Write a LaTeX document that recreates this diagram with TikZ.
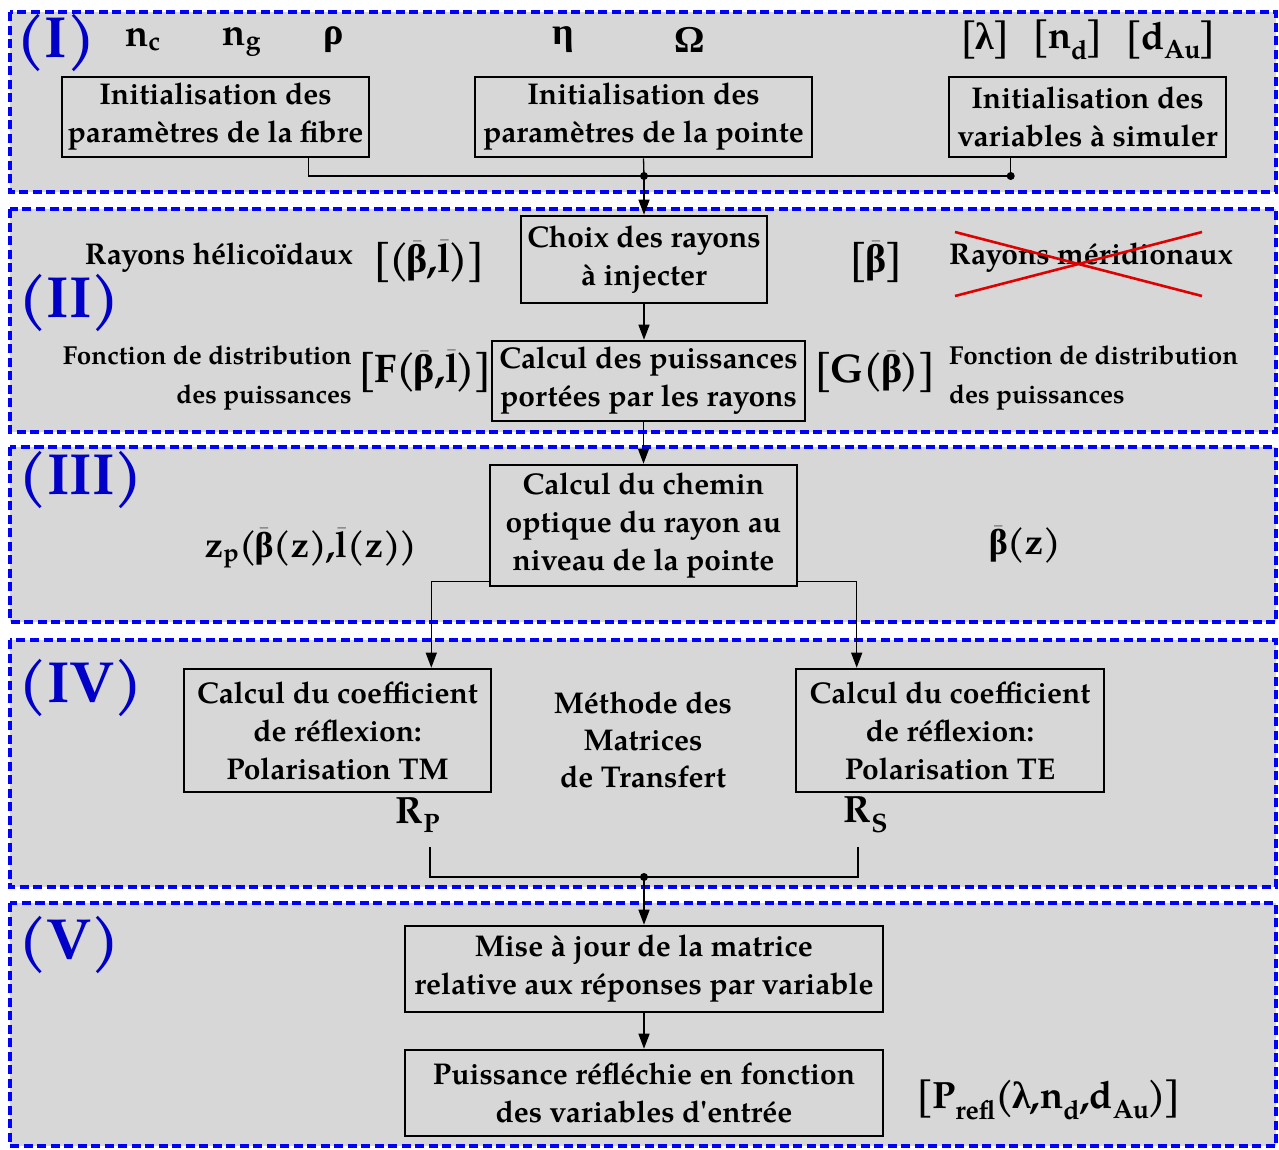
\documentclass[tikz,border=0pt]{standalone}
\usepackage{fontspec}
\setmainfont{texgyrepagella}[Extension=.otf, UprightFont=*-regular, BoldFont=*-bold, ItalicFont=*-italic, BoldItalicFont=*-bolditalic]
\newfontfamily\grk{Liberation Serif}
\usetikzlibrary{arrows.meta}
\definecolor{panelgray}{RGB}{215,215,215}
\definecolor{panelblue}{RGB}{0,0,255}
\definecolor{numblue}{RGB}{0,0,200}
\definecolor{crossred}{RGB}{225,0,0}
\newcommand\mybar[1]{\ensuremath{\bar{\hbox{#1}}}}
\newcommand\gb{{\grk β}}
\newcommand\sbs[1]{\textsubscript{#1}}
\newcommand\tk{\kern-0.06em}
\begin{document}
\begin{tikzpicture}[x=1pt,y=-1pt,
  panel/.style={draw=panelblue, fill=panelgray, line width=4.5pt, dash pattern=on 9pt off 4.5pt},
  box/.style={draw, line width=2.6pt, align=center, inner sep=0pt, font=\bfseries\fontsize{30}{38}\selectfont},
  num/.style={text=numblue, inner sep=0pt, font=\bfseries\fontsize{58}{60}\selectfont},
  lab/.style={inner sep=0pt, font=\bfseries\fontsize{38}{42}\selectfont},
  zlab/.style={inner sep=0pt, font=\bfseries\fontsize{36}{42}\selectfont},
  biglab/.style={inner sep=0pt, font=\bfseries\fontsize{40}{44}\selectfont},
  side/.style={inner sep=0pt, font=\bfseries\fontsize{30}{37}\selectfont},
  side2/.style={inner sep=0pt, font=\bfseries\fontsize{26}{39}\selectfont},
  conn/.style={line width=1.3pt},
  arr/.style={line width=1.3pt, -{Triangle[length=15pt,width=11pt]}},
  cross/.style={draw=crossred, line width=2.6pt}]
\useasboundingbox (0,0) rectangle (1279,1149);
% panels
\foreach \a/\b in {12/192,209/432,447/622,640/887,903/1146}
  \draw[panel] (10,\a) rectangle (1276,\b);
% numerals
\node[num] (n1) at (56,43) {(I)};
\node[num] (n2) at (69,303) {(II)};
\node[num] (n3) at (81,480) {(III)};
\node[num] (n4) at (81,688) {(IV)};
\node[num] (n5) at (69,945) {(V)};
% panel I labels
\node[lab] (nc) at (143,40) {n\sbs{c}};
\node[lab] (ng) at (242,42) {n\sbs{g}};
\node[lab] (rho) at (334,40) {{\grk ρ}};
\node[lab] (eta) at (563,40) {{\grk η}};
\node[lab] (om) at (690,40) {{\grk Ω}};
\node[lab] (lam) at (985,40) {[\tk{\grk λ}\tk]};
\node[lab] (nd) at (1068,40) {[\tk n\sbs{d}\tk]};
\node[lab] (dau) at (1171,40) {[\tk d\sbs{Au}\tk]};
% panel I boxes
\node[box, minimum width=307, minimum height=80] (fib) at (215.5,117) {Initialisation des\\paramètres de la fibre};
\node[box, minimum width=337, minimum height=80] (pte) at (643.5,117) {Initialisation des\\paramètres de la pointe};
\node[box, minimum width=277, minimum height=80] (var) at (1087.5,117) {Initialisation des\\variables à simuler};
\coordinate (j1) at (644,176);
\draw[conn] ([xshift=-62]fib.south east) |- (j1) -| ([xshift=63]var.south west);
\draw[conn] (pte.south) -- (j1);
\fill (j1) circle (4);
\fill ([xshift=63]var.south west |- j1) circle (4);
% panel II
\node[box, minimum width=246, minimum height=87] (choix) at (644,259.5) {Choix des rayons\\à injecter};
\node[box, minimum width=313, minimum height=80] (puiss) at (648.5,381) {Calcul des puissances\\portées par les rayons};
\draw[arr] (j1) -- (choix.north);
\draw[arr] (choix.south) -- (choix.south |- puiss.north);
\node[side, anchor=east] (hel) at (353,258) {Rayons hélicoïdaux};
\node[biglab] (bl) at (429,262) {[\tk(\tk\mybar{\gb},\mybar{l}\tk)\tk]};
\node[biglab] (bb) at (876,262) {[\tk\mybar{\gb}\tk]};
\node[side, anchor=west] (mer) at (949,258) {Rayons méridionaux};
\draw[cross] (955,232) -- (1202,296);
\draw[cross] (955,296) -- (1202,232);
\node[side2, anchor=east, align=right] (fd1) at (352,378) {Fonction de distribution\\des puissances};
\node[biglab] (F) at (425,372) {[\tk F(\tk\mybar{\gb},\mybar{l}\tk)\tk]};
\node[biglab] (G) at (875,372) {[\tk G(\tk\mybar{\gb}\tk)\tk]};
\node[side2, anchor=west, align=left] (fd2) at (949,378) {Fonction de distribution\\des puissances};
% panel III
\node[box, minimum width=307, minimum height=121] (chemin) at (643.5,525.5) {Calcul du chemin\\optique du rayon au\\niveau de la pointe};
\draw[arr] (chemin.north |- puiss.south) -- (chemin.north);
\node[zlab] (zp) at (311,548) {z\sbs{p}(\tk\mybar{\gb}(z),\mybar{l}(z)\tk)};
\node[zlab] (bz) at (1025,545) {\mybar{\gb}(z)};
% panel IV
\node[box, minimum width=307, minimum height=123] (tm) at (337.5,730.5) {Calcul du coefficient\\de réflexion:\\Polarisation TM};
\node[box, minimum width=308, minimum height=123] (te) at (950,730.5) {Calcul du coefficient\\de réflexion:\\Polarisation TE};
\draw[arr] ([yshift=6]chemin.south west) -| ([xshift=-61]tm.north east);
\draw[arr] ([yshift=6]chemin.south east) -| ([xshift=62]te.north west);
\node[side, align=center] (tmm) at (643,740) {Méthode des\\Matrices\\de Transfert};
\node[lab] (rp) at (418,815) {R\sbs{P}};
\node[lab] (rs) at (866,815) {R\sbs{S}};
\coordinate (cp) at (430,847);
\coordinate (cs) at (858,847);
\coordinate (j2) at (644,877);
\draw[conn] (cp) |- (j2) -| (cs);
\fill (j2) circle (4);
% panel V
\node[box, minimum width=478, minimum height=86] (mise) at (644,969) {Mise à jour de la matrice\\relative aux réponses par variable};
\node[box, minimum width=478, minimum height=86] (pref) at (644,1093) {Puissance réfléchie en fonction\\des variables d\textquotesingle entrée};
\draw[arr] (j2) -- (mise.north);
\draw[arr] (mise.south) -- (pref.north);
\node[lab] (pr) at (1049,1100) {[\tk P\sbs{refl}(\tk{\grk λ},n\sbs{d},d\sbs{Au}\tk)\tk]};
\end{tikzpicture}
\end{document}
